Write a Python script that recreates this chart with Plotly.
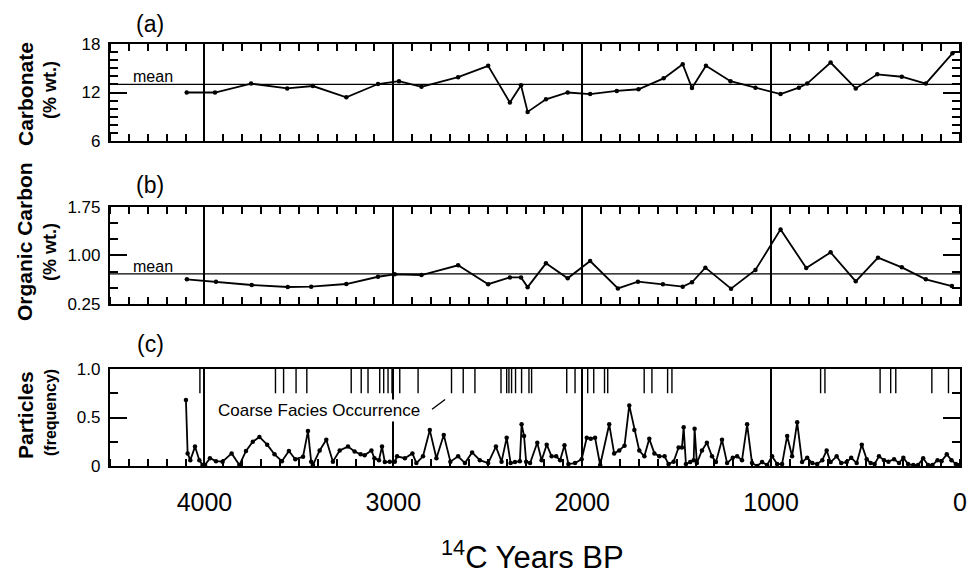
import plotly.graph_objects as go

# ---------------- data ----------------
CARB_AGE = [4094, 3944, 3753, 3562, 3426, 3249, 3081, 2970, 2851, 2657, 2498, 2383, 2324, 2289,
            2192, 2077, 1958, 1817, 1702, 1569, 1468, 1419, 1345, 1215, 1083, 950, 853, 809,
            685, 552, 438, 308, 181, 40]
CARB_VAL = [12.0, 12.0, 13.1, 12.5, 12.8, 11.4, 13.05, 13.4, 12.7, 13.9, 15.3, 10.75, 12.9, 9.6,
            11.15, 12.0, 11.8, 12.2, 12.4, 13.75, 15.5, 12.55, 15.3, 13.4, 12.6, 11.8, 12.6, 13.1,
            15.7, 12.5, 14.25, 13.95, 13.1, 16.85]
CARB_MEAN = 13.0

ORG_AGE = [4093, 3939, 3750, 3559, 3435, 3249, 3081, 2993, 2851, 2657, 2498, 2383, 2324, 2289,
           2192, 2077, 1958, 1811, 1705, 1573, 1468, 1419, 1348, 1212, 1083, 950, 814, 685,
           552, 434, 308, 181, 43]
ORG_VAL = [0.63, 0.594, 0.543, 0.512, 0.517, 0.558, 0.67, 0.707, 0.697, 0.846, 0.555, 0.66, 0.66, 0.51,
           0.877, 0.646, 0.913, 0.49, 0.594, 0.553, 0.517, 0.584, 0.81, 0.486, 0.774, 1.40, 0.805, 1.046,
           0.60, 0.964, 0.815, 0.63, 0.527]
ORG_MEAN = 0.715

PART_AGE = [4098, 4089, 4075, 4050, 4027, 4010, 3997, 3971, 3939, 3904,
            3856, 3815, 3780, 3744, 3709, 3668, 3629, 3590, 3553, 3519,
            3478, 3452, 3435, 3426, 3390, 3355, 3320, 3284, 3240, 3205,
            3173, 3152, 3116, 3100, 3076, 3060, 3045, 3019, 2992, 2980,
            2939, 2899, 2878, 2843, 2807, 2772, 2733, 2698, 2657, 2621,
            2583, 2542, 2498, 2457, 2427, 2400, 2379, 2356, 2330, 2321,
            2308, 2297, 2276, 2238, 2215, 2188, 2162, 2138, 2117, 2094,
            2073, 2038, 2003, 1976, 1955, 1932, 1905, 1857, 1831, 1804,
            1776, 1751, 1724, 1698, 1671, 1645, 1618, 1592, 1564, 1543,
            1516, 1490, 1472, 1463, 1451, 1428, 1410, 1405, 1393, 1366,
            1340, 1313, 1292, 1260, 1233, 1203, 1180, 1154, 1127, 1101,
            1074, 1048, 1021, 995, 968, 942, 915, 889, 862, 836,
            809, 782, 756, 729, 706, 685, 653, 629, 600, 576,
            547, 520, 494, 473, 452, 429, 402, 379, 349, 323,
            300, 275, 247, 222, 195, 169, 146, 119, 98, 70,
            45, 22, 4]
PART_VAL = [0.68, 0.13, 0.06, 0.20, 0.06, 0.01, 0.01, 0.08, 0.05, 0.045,
            0.13, 0.01, 0.155, 0.25, 0.30, 0.22, 0.12, 0.05, 0.155, 0.07,
            0.095, 0.36, 0.045, 0.01, 0.16, 0.27, 0.045, 0.16, 0.20, 0.15,
            0.12, 0.11, 0.16, 0.08, 0.06, 0.20, 0.04, 0.045, 0.045, 0.10,
            0.08, 0.13, 0.03, 0.10, 0.37, 0.08, 0.32, 0.045, 0.10, 0.03,
            0.14, 0.06, 0.03, 0.20, 0.045, 0.29, 0.03, 0.04, 0.05, 0.43,
            0.31, 0.045, 0.03, 0.24, 0.06, 0.22, 0.10, 0.10, 0.06, 0.215,
            0.02, 0.03, 0.07, 0.29, 0.28, 0.29, 0.01, 0.43, 0.13, 0.16,
            0.21, 0.625, 0.37, 0.16, 0.10, 0.28, 0.13, 0.10, 0.10, 0.02,
            0.045, 0.19, 0.19, 0.40, 0.02, 0.04, 0.06, 0.385, 0.03, 0.16,
            0.24, 0.10, 0.04, 0.27, 0.03, 0.085, 0.10, 0.06, 0.43, 0.03,
            0.0, 0.04, 0.01, 0.10, 0.02, 0.02, 0.31, 0.10, 0.45, 0.04,
            0.085, 0.03, 0.02, 0.06, 0.16, 0.04, 0.10, 0.03, 0.04, 0.085,
            0.03, 0.22, 0.07, 0.03, 0.02, 0.10, 0.06, 0.045, 0.07, 0.03,
            0.085, 0.02, 0.01, 0.01, 0.08, 0.01, 0.01, 0.06, 0.05, 0.12,
            0.06, 0.02, 0.01]
assert len(PART_AGE) == len(PART_VAL)
assert len(CARB_AGE) == len(CARB_VAL)
assert len(ORG_AGE) == len(ORG_VAL)

COARSE_AGE = [4024, 3624, 3581, 3515, 3458, 3223, 3170, 3134, 3072, 3051, 3028, 3007, 2966,
              2869, 2692, 2630, 2568, 2430, 2400, 2388, 2374, 2353, 2321, 2282, 2268, 2082,
              2038, 1971, 1939, 1882, 1865, 1672, 1631, 1548, 1525, 738, 715, 423, 367, 340,
              149, 61]
COARSE_TOP = 1.0
COARSE_BOTTOM = 0.75

X_TICKS = [4000, 3000, 2000, 1000, 0]
X_TICK_TEXT = ["4000", "3000", "2000", "1000", "0"]
A_TICKS = [6, 12, 18]
A_TICK_TEXT = ["6", "12", "18"]
B_TICKS = [0.25, 1.00, 1.75]
B_TICK_TEXT = ["0.25", "1.00", "1.75"]
C_TICKS = [0, 0.5, 1.0]
C_TICK_TEXT = ["0", "0.5", "1.0"]

# ---------------- figure ----------------
# the page body adds an 8px offset, so the figure is 8px smaller and margins shifted
OFF = 8
W, H = 979 - OFF, 577 - OFF
L, R, T, B = 110 - OFF, 19, 44 - OFF, 111
PW, PH = W - L - R, H - T - B          # plot area size (850 x 422)
BOT = 466                               # page y of bottom of panel c
LEFT = 110                              # page x of left of plot area


def px(x):
    return (x - LEFT) / PW


def py(y):
    return (BOT - y) / PH


FONT = "Liberation Sans, Arial, Helvetica, sans-serif"
fig = go.Figure()

line_style = dict(color="black", width=1.8)
marker_style = dict(color="black", size=4.5)

fig.add_trace(go.Scatter(x=CARB_AGE, y=CARB_VAL, mode="lines+markers", line=line_style,
                         marker=marker_style, xaxis="x", yaxis="y", showlegend=False))
fig.add_trace(go.Scatter(x=ORG_AGE, y=ORG_VAL, mode="lines+markers", line=line_style,
                         marker=marker_style, xaxis="x2", yaxis="y2", showlegend=False))
fig.add_trace(go.Scatter(x=PART_AGE, y=PART_VAL, mode="lines+markers", line=line_style,
                         marker=dict(color="black", size=4.5), xaxis="x3", yaxis="y3",
                         showlegend=False))

cx, cy = [], []
for a in COARSE_AGE:
    cx += [a, a, None]
    cy += [COARSE_TOP, COARSE_BOTTOM, None]
fig.add_trace(go.Scatter(x=cx, y=cy, mode="lines", line=dict(color="black", width=1.4),
                         xaxis="x3", yaxis="y3", showlegend=False, cliponaxis=False))


def xaxis(domain_anchor, mirror, labels):
    return dict(
        range=[4500, 0], anchor=domain_anchor, domain=[0, 1],
        showgrid=True, gridcolor="black", gridwidth=1.8,
        tickmode="array", tickvals=X_TICKS, ticktext=X_TICK_TEXT,
        ticks="", showticklabels=labels,
        tickfont=dict(family=FONT, size=25, color="black"),
        ticklabelstandoff=13,
        showline=True, linecolor="black", linewidth=2.2, mirror=mirror,
        zeroline=False,
        minor=dict(dtick=100, tick0=0, ticks="inside", ticklen=7, tickwidth=1.6,
                   tickcolor="black", showgrid=False),
    )


def yaxis(domain, rng, vals, text, minor_dtick):
    return dict(
        range=rng, domain=domain, showgrid=False, zeroline=False,
        tickmode="array", tickvals=vals, ticktext=text,
        ticks="inside", ticklen=17, tickwidth=1.8, tickcolor="black",
        tickfont=dict(family=FONT, size=17, color="black"),
        ticklabelstandoff=4,
        showline=True, linecolor="black", linewidth=2.2, mirror="ticks",
        minor=dict(dtick=minor_dtick, tick0=rng[0], ticks="inside", ticklen=8,
                   tickwidth=1.6, tickcolor="black", showgrid=False),
    )


fig.update_layout(
    width=W, height=H,
    margin=dict(l=L, r=R, t=T, b=B),
    paper_bgcolor="white", plot_bgcolor="white",
    font=dict(family=FONT, color="black"),
    xaxis=xaxis("y", "ticks", False),
    xaxis2=xaxis("y2", "ticks", False),
    xaxis3=xaxis("y3", True, True),
    yaxis=yaxis([py(141), 1.0], [6, 18], A_TICKS, A_TICK_TEXT, 1),
    yaxis2=yaxis([py(304), py(206.7)], [0.25, 1.75], B_TICKS, B_TICK_TEXT, 0.25),
    yaxis3=yaxis([0.0, py(369)], [0, 1.0], C_TICKS, C_TICK_TEXT, 0.25),
)
fig.update_layout(xaxis2=dict(matches="x"), xaxis3=dict(matches="x"))

# mean lines
fig.add_shape(type="line", xref="x domain", yref="y", x0=0, x1=1, y0=CARB_MEAN, y1=CARB_MEAN,
              line=dict(color="black", width=1.1))
fig.add_shape(type="line", xref="x2 domain", yref="y2", x0=0, x1=1, y0=ORG_MEAN, y1=ORG_MEAN,
              line=dict(color="black", width=1.1))
# leader line of the coarse facies label
fig.add_shape(type="line", xref="x3", yref="y3", x0=2795, y0=0.585, x1=2726, y1=0.686,
              line=dict(color="black", width=1.4))

ann = []
ann.append(dict(xref="x", yref="y", x=4275, y=CARB_MEAN, yanchor="bottom", yshift=-3,
                text="mean", showarrow=False, font=dict(size=16)))
ann.append(dict(xref="x2", yref="y2", x=4275, y=ORG_MEAN, yanchor="bottom", yshift=-3,
                text="mean", showarrow=False, font=dict(size=16)))

# panel letters
for lab, yy in [("(a)", 24), ("(b)", 185), ("(c)", 344)]:
    ann.append(dict(xref="paper", yref="paper", x=px(150), y=py(yy), text=lab,
                    showarrow=False, font=dict(size=23), xanchor="center", yanchor="middle"))

# y titles
ytitles = [
    ("<b>Carbonate</b>", 25, 94, 21),
    ("<b>(% wt.)</b>", 50, 90, 18),
    ("<b>Organic Carbon</b>", 25, 242, 21),
    ("<b>(% wt.)</b>", 50, 252, 18),
    ("<b>Particles</b>", 25, 415, 21),
    ("<b>(frequency)</b>", 50, 413, 16),
]
for t, xx, yy, fs in ytitles:
    ann.append(dict(xref="paper", yref="paper", x=px(xx), y=py(yy),
                    text=t, textangle=-90, showarrow=False, font=dict(size=fs),
                    xanchor="center", yanchor="middle"))

# coarse facies label
ann.append(dict(xref="x3", yref="y3", x=3391, y=0.574, text="Coarse Facies Occurrence",
                showarrow=False, font=dict(size=17), bgcolor="white",
                xanchor="center", yanchor="middle", borderpad=1))

# x title
ann.append(dict(xref="paper", yref="paper", x=px(532), y=py(555),
                text="<sup>14</sup>C Years BP", showarrow=False, font=dict(size=31),
                xanchor="center", yanchor="middle"))

fig.update_layout(annotations=ann)
fig.write_html("out.html")
